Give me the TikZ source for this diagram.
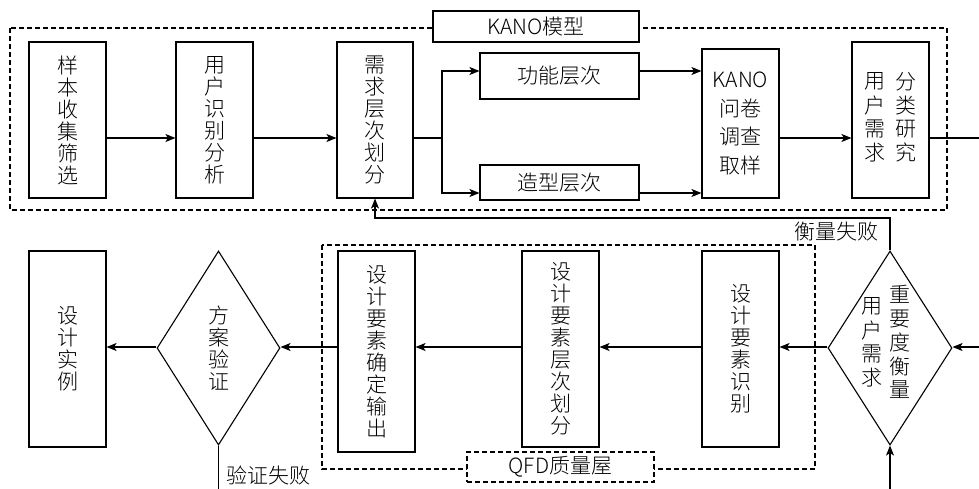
\documentclass[tikz,border=0pt]{standalone}
\usepackage{fontspec}
\setmainfont{Noto Sans CJK SC}[UprightFont=* Light]
\usetikzlibrary{shapes.geometric,arrows.meta}
\newcommand{\mycol}[1]{\begin{tabular}{@{}c@{}}#1\end{tabular}}
\begin{document}
\begin{tikzpicture}[x=1pt,y=-1pt,
  txt/.style={font=\fontsize{21}{22}\selectfont,inner sep=0pt,align=center},
  box/.style={txt,draw,line width=1.1pt,fill=white},
  dia/.style={draw,line width=1.1pt,diamond,inner sep=0pt,aspect=1},
  arr/.style={line width=1.1pt,-{Stealth[length=10pt,width=8pt,inset=2.5pt]}},
  ln/.style={line width=1.1pt},
  grp/.style={line width=1.1pt,dash pattern=on 5pt off 3pt}]
\useasboundingbox (0,0) rectangle (979,489);
\fill[white] (0,0) rectangle (979,489);
% group frames
\draw[grp] (10,28) rectangle (947,210);
\draw[grp] (322,245) rectangle (815,469);
\node[box,minimum width=206pt,minimum height=31pt] (kanolbl) at (536,26.5) {KANO模型};
\node[box,grp,minimum width=187pt,minimum height=30pt] (qfdlbl) at (560.5,467) {QFD质量屋};
% row coordinates
\coordinate (row) at (0,138);
\coordinate (row2) at (0,347);
% top row
\node[box,minimum width=77pt,minimum height=156pt] (b1) at (67.5,120) {样\\本\\收\\集\\筛\\选};
\node[box,minimum width=77pt,minimum height=156pt] (b2) at (214.5,120) {用\\户\\识\\别\\分\\析};
\node[box,minimum width=76pt,minimum height=156pt] (b3) at (375,120) {需\\求\\层\\次\\划\\分};
\node[box,minimum width=159pt,minimum height=46pt] (f1) at (559.5,76) {功能层次};
\node[box,minimum width=159pt,minimum height=35pt] (f2) at (559.5,182.5) {造型层次};
\node[box,minimum width=77pt,minimum height=149pt,font=\fontsize{21}{28.5}\selectfont] (k) at (740.5,123.5) {KANO\\问卷\\调查\\取样};
\node[box,minimum width=77pt,minimum height=156pt] (b5) at (890.5,120)
  {\begin{tabular}{@{}c@{\hspace{10pt}}c@{}}\mycol{用\\户\\需\\求} & \mycol{分\\类\\研\\究}\end{tabular}};
% bottom row
\node[box,minimum width=77pt,minimum height=196pt] (c1) at (67.5,349) {设\\计\\实\\例};
\node[dia,minimum width=123pt,minimum height=194pt] (d1) at (218.5,348) {};
\node[txt] (d1t) at (d1) {方\\案\\验\\证};
\node[box,minimum width=77pt,minimum height=201pt] (c2) at (376.5,351.5) {设\\计\\要\\素\\确\\定\\输\\出};
\node[box,minimum width=77pt,minimum height=196pt] (c3) at (560.5,349) {设\\计\\要\\素\\层\\次\\划\\分};
\node[box,minimum width=77pt,minimum height=196pt] (c4) at (740.5,349) {设\\计\\要\\素\\识\\别};
\node[dia,minimum width=124pt,minimum height=194pt] (d2) at (890,348) {};
\node[txt] (d2t) at (886,345)
  {\begin{tabular}{@{}c@{\hspace{7pt}}c@{}}\mycol{用\\户\\需\\求} & \mycol{重\\要\\度\\衡\\量}\end{tabular}};
% top connectors
\coordinate (br) at (442,138);
\draw[arr] (b1.east |- row) -- (b2.west |- row);
\draw[arr] (b2.east |- row) -- (b3.west |- row);
\draw[ln] (b3.east |- row) -- (br);
\draw[arr] (br) |- ([yshift=5pt]f1.west);
\draw[arr] (br) |- ([yshift=-10.5pt]f2.west);
\draw[arr] ([yshift=5pt]f1.east) -- ([yshift=5pt]f1.east -| k.west);
\draw[arr] ([yshift=-10.5pt]f2.east) -- ([yshift=-10.5pt]f2.east -| k.west);
\draw[arr] (k.east |- row) -- (b5.west |- row);
\coordinate (e1) at (979,138);
\draw[ln] (b5.east |- row) -- (e1);
% feedback
\coordinate (fb) at (600,218);
\draw[arr] (d2.north) |- (fb) -| (b3.south);
\node[txt,anchor=east] (fail1) at (879,232) {衡量失败};
% bottom connectors
\coordinate (e2) at (979,347);
\coordinate (e3) at (890,489);
\coordinate (e4) at (218.5,489);
\draw[arr] (e2) -- (d2.east |- row2);
\draw[arr] (e3) -- (d2.south);
\draw[arr] (d2.west |- row2) -- (c4.east |- row2);
\draw[arr] (c4.west |- row2) -- (c3.east |- row2);
\draw[arr] (c3.west |- row2) -- (c2.east |- row2);
\draw[arr] (c2.west |- row2) -- (d1.east |- row2);
\draw[arr] (d1.west |- row2) -- (c1.east |- row2);
\draw[ln] (d1.south) -- (e4);
\node[txt,anchor=west] (fail2) at (226,475) {验证失败};
\end{tikzpicture}
\end{document}
